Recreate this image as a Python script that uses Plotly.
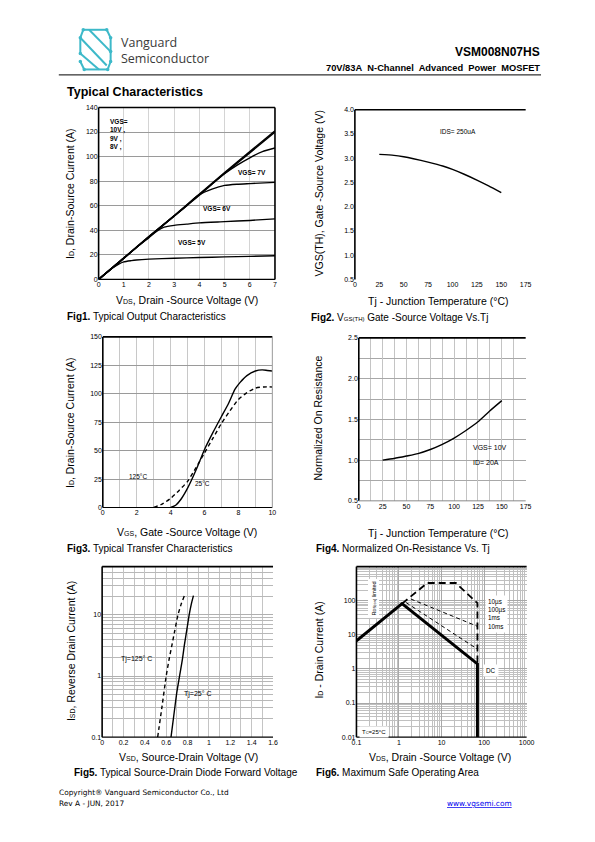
import plotly.graph_objects as go

W, H = 595, 842
NARROW = "Liberation Sans Narrow, Liberation Sans, Arial"
SANS = "Liberation Sans, Arial"

# ---------------- data ----------------
# Fig1 output characteristics
f1_x10 = [0, 1, 2, 3, 4, 5, 6, 7]
f1_y10 = [0, 17.5, 35, 52, 69.5, 87, 104, 121]
f1_x9 = [0, 1, 2, 3, 4, 5, 6, 7]
f1_y9 = [0, 17.3, 34.7, 51.6, 69, 86.3, 103, 120]
f1_x8 = [0, 1, 2, 3, 4, 4.5, 5, 5.5, 6, 6.5, 7]
f1_y8 = [0, 17.3, 34.7, 51.6, 68.5, 77.5, 86, 93, 99, 104, 107]
f1_x7 = [0, 1, 2, 3, 3.5, 3.8, 4, 4.5, 5, 5.5, 6, 7]
f1_y7 = [0, 17.3, 34.7, 51.5, 60, 66, 69, 73.5, 76.5, 77.5, 78, 79]
f1_x6 = [0, 1, 1.5, 2, 2.3, 2.6, 3, 3.5, 4, 5, 6, 7]
f1_y6 = [0, 17, 26, 34, 39, 42.5, 44, 45, 46, 47, 48, 49.3]
f1_x5 = [0, 0.5, 0.8, 1, 1.3, 1.5, 2, 3, 4, 5, 6, 7]
f1_y5 = [0, 8.5, 12.5, 14.3, 15.3, 15.8, 16.5, 17.2, 17.8, 18.3, 18.7, 19.2]

# Fig2 VGS(th) vs Tj
f2_t = [25, 40, 50, 60, 75, 90, 100, 112, 125, 137, 150]
f2_v = [3.08, 3.06, 3.03, 2.99, 2.92, 2.84, 2.77, 2.67, 2.55, 2.43, 2.29]

# Fig3 transfer characteristics
f3_x25 = [4.0, 4.3, 4.6, 5.0, 5.5, 6.0, 6.5, 7.0, 7.4, 7.8, 8.1, 8.5, 9.0, 9.4, 9.7, 10]
f3_y25 = [0, 2, 7, 17, 33, 51, 66, 80, 91, 104, 110, 116, 120, 121, 120.5, 120]
f3_x125 = [3.0, 3.5, 4.0, 4.5, 5.0, 5.5, 6.0, 6.5, 7.0, 7.5, 8.0, 8.5, 9.0, 9.5, 10]
f3_y125 = [0, 3, 8, 15, 23, 35, 48, 61, 74, 85, 95, 101, 105, 106, 106]

# Fig4 normalized Rds(on)
f4_t = [25, 37, 50, 62, 75, 87, 100, 112, 125, 137, 150]
f4_r = [1.00, 1.02, 1.05, 1.08, 1.13, 1.19, 1.27, 1.36, 1.47, 1.60, 1.73]

# Fig5 diode forward voltage
f5_v25 = [0.645, 0.68, 0.70, 0.725, 0.75, 0.77, 0.795, 0.815, 0.835, 0.855]
f5_i25 = [0.1, 0.3, 0.55, 1, 1.8, 3.2, 6, 10, 15, 20.6]
f5_v125 = [0.52, 0.56, 0.60, 0.63, 0.655, 0.68, 0.71, 0.74, 0.77]
f5_i125 = [0.1, 0.31, 1, 2, 3.3, 5.5, 10, 15, 20.6]

# Fig6 SOA
f6_dc_v = [0.1, 1.18, 69.7, 69.7]
f6_dc_i = [6.7, 82, 1.4, 0.01]
f6_10us_v = [1.18, 4.6, 21.7, 69.7, 69.7]
f6_10us_i = [82, 330, 330, 85, 1.4]
f6_100us_v = [1.9, 69.7]
f6_100us_i = [112, 17.7]
f6_1ms_v = [1.47, 69.7]
f6_1ms_i = [88, 3.8]


# ---------------- helpers ----------------
def px(x):
    return x / W


def py(y):
    return 1 - y / H


def dom_x(a, b):
    return [px(a), px(b)]


def dom_y(top, bottom):
    return [py(bottom), py(top)]


fig = go.Figure()


def line(xs, ys, ax, dash="solid", width=1.4):
    fig.add_trace(go.Scatter(x=xs, y=ys, mode="lines", xaxis=ax[0], yaxis=ax[1],
                             line=dict(color="black", width=width, dash=dash, shape="spline", smoothing=0.6),
                             hoverinfo="skip"))


def line_straight(xs, ys, ax, dash="solid", width=1.4):
    fig.add_trace(go.Scatter(x=xs, y=ys, mode="lines", xaxis=ax[0], yaxis=ax[1],
                             line=dict(color="black", width=width, dash=dash),
                             hoverinfo="skip"))


tickf = dict(size=7, family=NARROW, color="black")

# Fig1
line(f1_x10, f1_y10, ("x", "y"))
line(f1_x9, f1_y9, ("x", "y"))
line(f1_x8, f1_y8, ("x", "y"))
line(f1_x7, f1_y7, ("x", "y"))
line(f1_x6, f1_y6, ("x", "y"))
line(f1_x5, f1_y5, ("x", "y"))
# Fig2
line(f2_t, f2_v, ("x2", "y2"))
# Fig3
line(f3_x25, f3_y25, ("x3", "y3"))
line(f3_x125, f3_y125, ("x3", "y3"), dash="4px,3px")
# Fig4
line(f4_t, f4_r, ("x4", "y4"))
# Fig5
line(f5_v25, f5_i25, ("x5", "y5"))
line(f5_v125, f5_i125, ("x5", "y5"), dash="4px,3px")
# Fig6
line_straight(f6_100us_v, f6_100us_i, ("x6", "y6"), dash="4px,3px", width=1)
line_straight(f6_1ms_v, f6_1ms_i, ("x6", "y6"), dash="4px,3px", width=1)
line_straight(f6_10us_v, f6_10us_i, ("x6", "y6"), dash="7px,4px", width=1.8)
line_straight(f6_dc_v, f6_dc_i, ("x6", "y6"), width=3)

base = dict(showline=False, zeroline=False, ticks="", tickfont=tickf, fixedrange=True)

layout = dict(
    width=W, height=H, margin=dict(l=0, r=0, t=0, b=0),
    paper_bgcolor="white", plot_bgcolor="white", showlegend=False,
    xaxis=dict(base, domain=dom_x(95.7, 276), anchor="y", range=[0, 7], dtick=1,
               showgrid=True, gridcolor="#d4d4d4", gridwidth=1),
    yaxis=dict(base, domain=dom_y(104.3, 277.7), anchor="x", range=[0, 140], dtick=20,
               showgrid=True, gridcolor="#9a9a9a", gridwidth=1),
    xaxis2=dict(base, domain=dom_x(357.7, 532.3), anchor="y2", range=[0, 175], dtick=25, showgrid=False),
    yaxis2=dict(base, domain=dom_y(106.7, 277.7), anchor="x2", range=[0.5, 4.0], dtick=0.5,
                tickformat=".1f", showgrid=False),
    xaxis3=dict(base, domain=dom_x(100, 273.3), anchor="y3", range=[0, 10], dtick=2,
                showgrid=True, gridcolor="#c8c8c8",
                minor=dict(dtick=1, showgrid=True, gridcolor="#c8c8c8", ticks="")),
    yaxis3=dict(base, domain=dom_y(335.7, 507.7), anchor="x3", range=[0, 150], dtick=25,
                showgrid=True, gridcolor="#9a9a9a"),
    xaxis4=dict(base, domain=dom_x(361.7, 532.3), anchor="y4", range=[0, 175], dtick=25,
                showgrid=True, gridcolor="#c4c4c4",
                minor=dict(dtick=12.5, showgrid=True, gridcolor="#c4c4c4", ticks="")),
    yaxis4=dict(base, domain=dom_y(336.7, 501), anchor="x4", range=[0.5, 2.5], dtick=0.5,
                tickformat=".1f", showgrid=True, gridcolor="#a8a8a8",
                minor=dict(dtick=0.25, showgrid=True, gridcolor="#a8a8a8", ticks="")),
    xaxis5=dict(base, domain=dom_x(99.3, 274), anchor="y5", range=[0, 1.6], dtick=0.2,
                showgrid=True, gridcolor="#c4c4c4",
                minor=dict(dtick=0.1, showgrid=True, gridcolor="#c4c4c4", ticks="")),
    yaxis5=dict(base, domain=dom_y(567.3, 739.3), anchor="x5", type="log", range=[-1, 1.79],
                tickvals=[0.1, 1, 10], ticktext=["0.1", "1", "10"],
                showgrid=True, gridcolor="#b0b0b0",
                minor=dict(dtick="D1", showgrid=True, gridcolor="#b8b8b8", ticks="")),
    xaxis6=dict(base, domain=dom_x(359.3, 533.3), anchor="y6", type="log", range=[-1, 3],
                tickvals=[0.1, 1, 10, 100, 1000], ticktext=["0.1", "1", "10", "100", "1000"],
                showgrid=True, gridcolor="#a8a8a8",
                minor=dict(dtick="D1", showgrid=True, gridcolor="#c0c0c0", ticks="")),
    yaxis6=dict(base, domain=dom_y(567.3, 739.3), anchor="x6", type="log", range=[-2, 3],
                tickvals=[0.01, 0.1, 1, 10, 100], ticktext=["0.01", "0.1", "1", "10", "100"],
                showgrid=True, gridcolor="#a8a8a8",
                minor=dict(dtick="D1", showgrid=True, gridcolor="#c0c0c0", ticks="")),
)
fig.update_layout(**layout)

shapes = []


def seg(x0, y0, x1, y1, ref, color="black", width=1.6):
    shapes.append(dict(type="line", xref=ref[0] + " domain", yref=ref[1] + " domain",
                       x0=x0, y0=y0, x1=x1, y1=y1, line=dict(color=color, width=width)))


# frames
for ref, sides in [(("x", "y"), "tlbr"), (("x2", "y2"), "tl"), (("x3", "y3"), "tlb"),
                   (("x4", "y4"), "tl"), (("x5", "y5"), "tlb"), (("x6", "y6"), "tlb")]:
    if "t" in sides:
        seg(0, 1, 1, 1, ref)
    if "l" in sides:
        seg(0, 0, 0, 1, ref)
    if "b" in sides:
        seg(0, 0, 1, 0, ref, width=1.2)
    if "r" in sides:
        seg(1, 0, 1, 1, ref)
seg(0, 0, 1, 0, ("x4", "y4"), color="#888888", width=1)
seg(1, 0, 1, 1, ("x3", "y3"), color="#999999", width=1)

# header line
shapes.append(dict(type="line", xref="paper", yref="paper", x0=px(55), x1=px(548), y0=py(71.5), y1=py(71.5),
                   line=dict(color="black", width=1)))

# logo icon
TEAL = "#3db9c9"
logo_segs = [((80, 26), (104, 26)), ((104, 26), (108, 34)), ((80, 26), (77, 34)), ((77, 34), (77, 50)),
             ((77, 34), (104, 62)), ((86, 26), (108, 48)), ((108, 34), (108, 48)),
             ((81, 66), (105, 66)), ((105, 66), (108, 58)), ((77, 58), (81, 66)),
             ((77, 50), (96, 66)), ((108, 48), (108, 58))]
for (a, b) in logo_segs:
    shapes.append(dict(type="line", xref="paper", yref="paper", x0=px(a[0]), y0=py(a[1]),
                       x1=px(b[0]), y1=py(b[1]), line=dict(color=TEAL, width=2)))
for (cx, cy) in [(80, 26), (104, 26), (108, 34), (77, 34), (77, 50), (108, 48), (108, 58),
                 (81, 66), (105, 66), (77, 58)]:
    shapes.append(dict(type="circle", xref="paper", yref="paper", x0=px(cx - 1.8), x1=px(cx + 1.8),
                       y0=py(cy + 1.8), y1=py(cy - 1.8), fillcolor=TEAL, line=dict(width=0)))

fig.update_layout(shapes=shapes)

ann = []


def ptext(x, y, text, size=10, anchor="left", bold=False, family=SANS, color="black", angle=0, yanchor="middle"):
    if bold:
        text = "<b>" + text + "</b>"
    ann.append(dict(xref="paper", yref="paper", x=px(x), y=py(y), text=text, showarrow=False,
                    xanchor=anchor, yanchor=yanchor, textangle=angle, borderpad=0,
                    font=dict(size=size, family=family, color=color)))


def dtext(ax, x, y, text, size=6.5, anchor="center", bold=False, bg=None, angle=0, align="left"):
    if bold:
        text = "<b>" + text + "</b>"
    d = dict(xref=ax[0], yref=ax[1], x=x, y=y, text=text, showarrow=False, xanchor=anchor,
             yanchor="middle", textangle=angle, align=align,
             font=dict(size=size, family=NARROW, color="black"))
    if bg:
        d["bgcolor"] = bg
        d["borderpad"] = 2
    ann.append(d)


def sm(t, s=7):
    return "<span style='font-size:%dpx'>%s</span>" % (s, t)


# header
ptext(118, 38.5, "Vanguard", size=12.5, family="Open Sans, Noto Sans", color="#3a3a3a")
ptext(118, 55, "Semiconductor", size=12.5, family="Open Sans, Noto Sans", color="#3a3a3a")
ptext(548, 48, "VSM008N07HS", size=12, anchor="right", bold=True)
ptext(548, 64.5, "70V/83A\u00a0 N-Channel\u00a0 Advanced\u00a0 Power\u00a0 MOSFET", size=9.3, anchor="right", bold=True)
ptext(62, 89, "Typical Characteristics", size=12.5, bold=True)

# axis titles
ptext(186, 298, "V" + sm("DS") + ", Drain -Source Voltage (V)", size=10.5, anchor="center")
ptext(67, 191, "I" + sm("D") + ", Drain-Source Current (A)", size=10.5, anchor="center", angle=-90)
ptext(62, 315.5, "<b>Fig1.</b> Typical Output Characteristics", size=10)

ptext(443, 299, "Tj - Junction Temperature (°C)", size=10.5, anchor="center")
ptext(321, 191, "VGS(TH), Gate -Source Voltage (V)", size=10.5, anchor="center", angle=-90)
ptext(312, 316, "<b>Fig2.</b> V" + sm("GS(TH)", 6) + " Gate -Source Voltage Vs.Tj", size=10)

ptext(186, 532.5, "V" + sm("GS") + ", Gate -Source Voltage (V)", size=10.5, anchor="center")
ptext(67, 422, "I" + sm("D") + ", Drain-Source Current (A)", size=10.5, anchor="center", angle=-90)
ptext(62, 549, "<b>Fig3.</b> Typical Transfer Characteristics", size=10)

ptext(443, 533.5, "Tj - Junction Temperature (°C)", size=10.5, anchor="center")
ptext(320, 418, "Normalized On Resistance", size=10.5, anchor="center", angle=-90)
ptext(317, 549, "<b>Fig4.</b> Normalized On-Resistance Vs. Tj", size=10)

ptext(188, 759, "V" + sm("SD") + ", Source-Drain Voltage (V)", size=10.5, anchor="center")
ptext(67, 653, "I" + sm("SD") + ", Reverse Drain Current (A)", size=10.5, anchor="center", angle=-90)
ptext(70, 775, "<b>Fig5.</b> Typical Source-Drain Diode Forward Voltage", size=10)

ptext(445, 759, "V" + sm("DS") + ", Drain -Source Voltage (V)", size=10.5, anchor="center")
ptext(321, 651, "I" + sm("D") + " - Drain Current (A)", size=10.5, anchor="center", angle=-90)
ptext(317, 775, "<b>Fig6.</b> Maximum Safe Operating Area", size=10)

# footer
ptext(54, 795, "Copyright® Vanguard Semiconductor Co., Ltd", size=7.4, family="DejaVu Sans")
ptext(54, 806.5, "Rev A - JUN, 2017", size=7.4, family="DejaVu Sans")
ptext(519, 806.5, "<u>www.vgsemi.com</u>", size=7.4, family="DejaVu Sans", anchor="right", color="#0000ee")

# in-chart labels
dtext(("x", "y"), 0.36, 118, "VGS=<br>10V ,<br>9V ,<br>8V ,", size=6.5, anchor="left", bold=True)
dtext(("x", "y"), 6.1, 86.7, "VGS= 7V", size=6.5, bold=True)
dtext(("x", "y"), 4.7, 57.8, "VGS= 6V", size=6.5, bold=True)
dtext(("x", "y"), 3.7, 29.8, "VGS= 5V", size=6.5, bold=True)

dtext(("x2", "y2"), 106, 3.56, "IDS= 250uA", size=6.5)

dtext(("x3", "y3"), 2.08, 27, "125°C", size=6.5)
dtext(("x3", "y3"), 5.88, 20.7, "25°C", size=6.5)

dtext(("x4", "y4"), 118, 1.16, "VGS= 10V", size=7, anchor="left")
dtext(("x4", "y4"), 118, 0.97, "ID= 20A", size=7, anchor="left")

dtext(("x5", "y5"), 0.318, 0.286, "Tj=125° C", size=7)
dtext(("x5", "y5"), 0.9, -0.298, "Tj=25° C", size=7)

dtext(("x6", "y6"), 2.02, 1.62, "10µs<br>100µs<br>1ms<br>10ms", size=6.3, anchor="left", bg="white")
dtext(("x6", "y6"), 2.16, -0.035, "DC", size=6.3, bg="white")
dtext(("x6", "y6"), -0.6, 2.08, "R" + sm("DS(on)", 4) + " limited", size=5.5, bg="white", angle=-90)
dtext(("x6", "y6"), -0.582, -1.85, "T" + sm("C", 4) + "=25°C", size=6, bg="white")

fig.update_layout(annotations=ann)

fig.write_html("out.html", config={"displayModeBar": False, "staticPlot": True},
               post_script="document.body.style.margin='0';document.body.style.overflow='hidden';"
                           "document.documentElement.style.overflow='hidden';")
